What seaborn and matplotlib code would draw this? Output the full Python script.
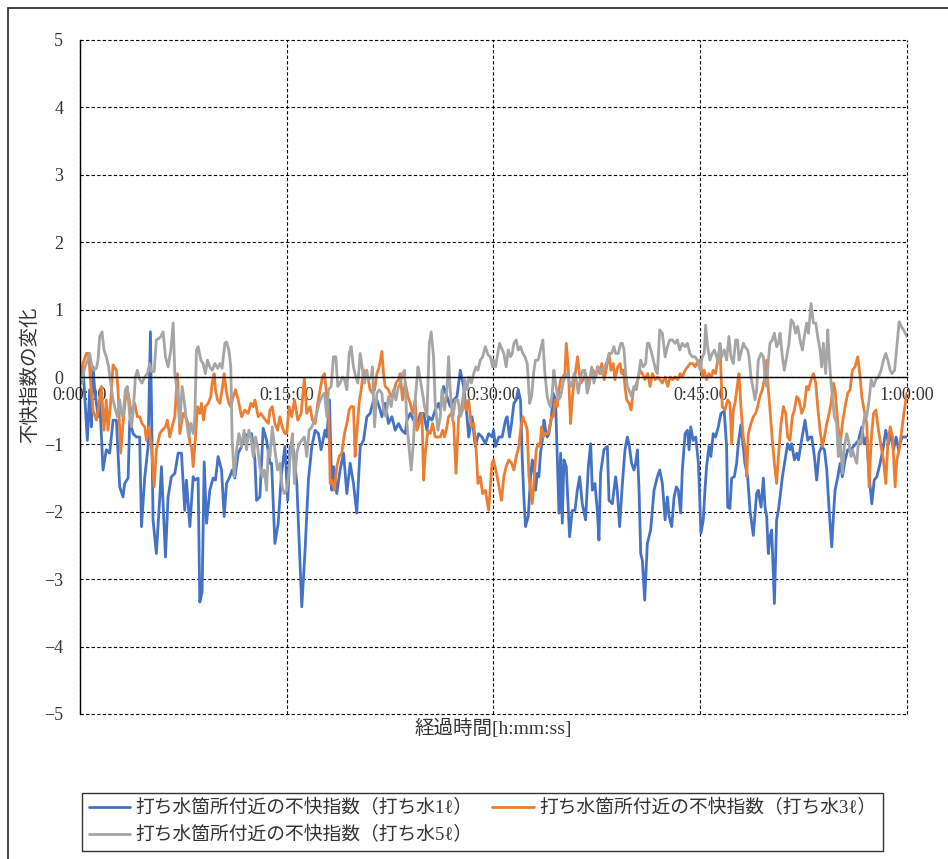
import matplotlib
matplotlib.use("Agg")
import matplotlib.pyplot as plt
import matplotlib.ticker as mticker
from matplotlib.patches import Rectangle
import seaborn as sns

# ---------------- data (minutes from start, change of discomfort index) ----------------
blue_minutes = [
    0.00,0.22,0.53,0.70,0.82,0.94,1.07,1.31,1.43,1.67,1.91,2.15,2.40,2.64,2.88,3.12,3.24,3.49,3.61,3.85,4.09,4.33,4.46,4.70,4.94,5.11,5.30,5.54,5.79,5.91,6.20,6.39,6.63,6.88,7.12,7.36,7.60,7.72,7.97,8.21,8.33,8.57,8.69,8.86,9.01,9.18,9.42,9.66,9.83,10.02,10.27,10.46,10.63,10.87,11.04,11.23,11.48,11.72,11.96,12.20,12.45,12.69,12.81,13.05,13.29,13.54,13.78,13.90,14.14,14.38,14.62,14.87,
    15.07,15.24,15.48,15.73,16.09,16.33,16.57,16.82,17.06,17.30,17.49,17.78,17.91,18.10,18.27,18.39,18.63,18.87,19.12,19.36,19.60,19.84,20.08,20.33,20.57,20.81,21.05,21.30,21.54,21.78,21.90,22.14,22.38,22.63,22.87,23.11,23.35,23.60,23.72,23.96,24.20,24.44,24.69,24.93,25.17,25.29,25.53,25.77,26.02,26.14,26.38,26.62,26.86,27.11,27.35,27.59,27.83,28.08,28.20,28.44,28.68,28.92,29.16,29.41,29.65,29.89,
    30.00,30.15,30.39,30.63,30.87,30.99,31.16,31.31,31.48,31.65,31.79,31.96,32.08,32.20,32.32,32.52,32.69,32.81,32.93,33.05,33.17,33.29,33.41,33.54,33.66,33.78,33.90,34.02,34.21,34.33,34.50,34.62,34.75,34.87,34.99,35.11,35.28,35.52,35.71,35.91,36.08,36.25,36.44,36.68,36.88,37.05,37.17,37.36,37.53,37.65,37.77,38.01,38.26,38.38,38.62,38.86,38.98,39.15,39.35,39.54,39.71,39.83,40.02,40.19,40.31,40.44,40.56,40.68,40.80,40.97,41.16,41.40,41.65,41.89,42.06,42.25,42.45,42.62,42.74,42.93,43.10,43.27,43.41,43.58,43.70,43.90,44.07,44.19,44.31,44.48,44.67,44.87,
    45.05,45.22,45.34,45.46,45.63,45.77,45.94,46.11,46.31,46.50,46.74,46.91,46.99,47.15,47.28,47.47,47.64,47.76,47.95,48.12,48.24,48.44,48.61,48.85,49.09,49.21,49.41,49.58,49.70,49.82,49.94,50.06,50.18,50.38,50.54,50.67,50.79,50.96,51.15,51.34,51.51,51.63,51.83,52.00,52.12,52.31,52.48,52.60,52.80,52.97,53.09,53.28,53.45,53.62,53.81,54.01,54.18,54.35,54.54,54.66,54.78,54.98,55.15,55.31,55.51,55.70,55.94,56.11,56.28,56.48,56.72,56.89,57.08,57.25,57.45,57.62,57.81,58.05,58.29,58.46,58.66,58.85,59.02,59.21,59.39,59.63,59.99,
]
blue_values = [
    0.10,0.15,-0.94,-0.19,-0.74,0.15,-0.19,-0.59,-0.34,-1.38,-1.08,-1.13,-0.64,-0.64,-1.63,-1.78,-1.58,-1.50,-0.64,-0.84,-0.89,-0.89,-2.22,-1.48,-1.03,0.67,-2.12,-2.62,-1.78,-1.33,-2.67,-1.78,-1.48,-1.43,-1.13,-1.13,-1.98,-1.53,-2.22,-1.48,-1.53,-1.50,-3.34,-3.19,-1.26,-2.17,-1.68,-1.50,-1.53,-1.18,-1.38,-2.07,-1.58,-1.48,-1.38,-1.50,-1.13,-1.03,-0.84,-0.89,-0.84,-1.23,-1.83,-1.78,-0.76,-0.94,-1.28,-1.28,-2.47,-2.17,-1.43,-1.03,
    -1.83,-1.03,-1.08,-1.58,-3.41,-2.57,-1.53,-1.03,-0.79,-0.84,-1.08,-0.79,-0.89,-0.34,-1.68,-1.33,-1.73,-1.38,-1.13,-1.73,-1.28,-1.58,-2.02,-1.03,-0.94,-0.59,-0.54,-0.34,-0.34,-0.49,-0.59,-0.39,-0.69,-0.59,-0.79,-0.69,-0.79,-0.84,-0.64,-0.54,-0.64,-0.74,-0.54,-0.54,-0.79,-0.59,-0.64,-0.49,-0.39,-0.49,-0.14,-0.29,-0.44,-0.34,-0.29,0.10,-0.14,-0.59,-0.89,-0.59,-1.03,-0.84,-0.89,-0.99,-0.84,-0.89,
    -0.79,-1.03,-0.89,-0.89,-0.64,-0.59,-0.89,-0.69,-0.39,-0.34,-0.19,-0.34,-1.18,-1.78,-2.22,-2.07,-1.48,-1.23,-1.38,-1.68,-1.43,-1.48,-1.13,-0.94,-0.64,-0.79,-0.89,-0.84,-0.59,-0.24,-0.34,-1.13,-2.02,-1.13,-2.17,-1.23,-1.33,-2.37,-1.98,-1.98,-1.68,-1.48,-1.88,-2.12,-1.33,-0.99,-1.68,-1.58,-1.98,-2.42,-1.43,-1.08,-1.03,-1.83,-1.88,-1.48,-1.68,-2.22,-1.58,-1.08,-0.89,-0.99,-1.28,-1.38,-1.28,-1.08,-1.68,-2.62,-2.72,-3.31,-2.47,-2.27,-1.68,-1.48,-1.38,-1.58,-2.12,-1.78,-2.07,-2.22,-1.78,-1.63,-1.68,-2.02,-1.38,-0.84,-0.79,-1.08,-0.74,-0.94,-0.89,-1.28,
    -2.32,-2.12,-1.68,-1.33,-1.03,-1.18,-0.84,-0.89,-0.74,-0.54,-0.51,-1.03,-1.93,-1.95,-1.50,-1.48,-1.28,-0.99,-0.71,-1.03,-1.28,-1.48,-1.98,-2.35,-1.73,-1.68,-1.93,-1.50,-1.93,-2.07,-2.62,-2.37,-2.27,-3.36,-2.12,-1.98,-1.78,-1.48,-1.23,-0.99,-1.08,-0.99,-1.23,-1.13,-1.23,-0.99,-0.79,-0.64,-0.94,-0.89,-0.89,-1.18,-1.53,-1.13,-1.03,-1.08,-1.38,-1.98,-2.52,-2.07,-1.68,-1.48,-1.28,-1.48,-1.23,-1.08,-1.08,-1.03,-0.99,-0.94,-0.74,-0.99,-0.89,-1.48,-1.88,-1.53,-1.48,-1.28,-1.03,-0.79,-0.99,-0.84,-1.08,-0.89,-1.08,-0.89,-0.89,
]

orange_minutes = [
    0.00,0.22,0.46,0.63,0.77,0.94,1.19,1.36,1.55,1.74,1.91,2.03,2.20,2.40,2.64,2.76,2.95,3.12,3.29,3.49,3.73,3.97,4.16,4.33,4.50,4.70,4.82,4.99,5.18,5.38,5.54,5.79,5.96,6.20,6.34,6.51,6.68,6.88,7.07,7.24,7.48,7.65,7.85,7.97,8.09,8.21,8.38,8.52,8.69,8.81,8.96,9.10,9.30,9.49,9.59,9.73,9.83,9.98,10.15,10.31,10.46,10.63,10.80,10.94,11.11,11.28,11.48,11.72,11.96,12.20,12.40,12.57,12.69,12.93,13.12,13.29,13.46,13.66,13.78,13.95,14.14,14.33,14.50,14.67,14.87,
    15.00,15.17,15.36,15.56,15.80,16.04,16.28,16.45,16.69,16.86,17.06,17.25,17.42,17.59,17.74,17.91,18.03,18.15,18.27,18.46,18.63,18.80,18.99,19.19,19.36,19.53,19.67,19.84,19.96,20.08,20.25,20.40,20.57,20.74,20.88,21.05,21.22,21.37,21.54,21.71,21.90,22.02,22.14,22.38,22.58,22.75,22.92,23.11,23.23,23.40,23.60,23.79,23.96,24.13,24.32,24.44,24.61,24.81,24.93,25.05,25.24,25.41,25.58,25.77,25.97,26.14,26.31,26.45,26.62,26.74,26.94,27.11,27.28,27.47,27.66,27.83,28.00,28.20,28.39,28.56,28.73,28.87,29.04,29.21,29.41,29.65,29.89,
    30.00,30.27,30.44,30.58,30.75,30.92,31.11,31.31,31.48,31.65,31.84,31.96,32.13,32.32,32.45,32.57,32.69,32.81,32.93,33.10,33.24,33.37,33.49,33.61,33.78,33.97,34.21,34.33,34.50,34.62,34.75,34.87,35.04,35.18,35.28,35.42,35.59,35.71,35.83,36.00,36.10,36.20,36.34,36.51,36.68,36.88,37.07,37.24,37.41,37.55,37.72,37.85,38.04,38.21,38.38,38.52,38.69,38.81,39.01,39.18,39.30,39.42,39.54,39.66,39.83,39.98,40.15,40.31,40.46,40.63,40.80,40.99,41.19,41.36,41.53,41.72,41.91,42.08,42.25,42.45,42.64,42.81,42.98,43.17,43.37,43.54,43.70,43.90,44.09,44.26,44.46,44.62,44.82,
    45.00,45.15,45.29,45.46,45.63,45.82,45.94,46.11,46.26,46.43,46.60,46.79,46.99,47.15,47.28,47.40,47.52,47.71,47.81,47.95,48.12,48.29,48.37,48.49,48.68,48.85,49.02,49.16,49.33,49.50,49.65,49.82,49.94,50.06,50.23,50.38,50.54,50.67,50.86,51.03,51.20,51.34,51.51,51.68,51.83,52.00,52.17,52.36,52.55,52.72,52.85,53.04,53.21,53.38,53.52,53.69,53.86,54.01,54.18,54.35,54.49,54.66,54.78,54.98,55.15,55.31,55.51,55.70,55.87,56.04,56.23,56.43,56.60,56.72,56.89,57.08,57.25,57.40,57.57,57.74,57.93,58.12,58.29,58.46,58.61,58.78,58.95,59.14,59.26,59.43,59.62,59.81,59.99,
]
orange_values = [
    0.00,0.20,0.35,0.35,-0.09,-0.49,-0.64,-0.44,-0.14,-0.79,-0.34,-0.79,-0.44,0.18,0.10,-0.19,-1.13,-0.69,-0.34,-0.24,-0.54,-0.39,-0.59,-0.59,-0.69,-0.74,-0.94,-0.74,-1.03,-1.63,-1.08,-0.84,-0.79,-0.74,-0.64,-0.89,-0.74,-0.59,0.05,-0.84,-0.54,-0.59,-0.69,-0.99,-1.03,-1.33,-0.89,-0.44,-0.54,-0.39,-0.64,-0.44,-0.39,-0.29,-0.09,0.05,-0.19,-0.34,-0.39,-0.19,0.05,-0.24,-0.39,-0.44,-0.29,-0.19,-0.34,-0.59,-0.49,-0.54,-0.39,-0.44,-0.34,-0.59,-0.54,-0.59,-0.64,-0.69,-0.49,-0.44,-0.69,-0.79,-0.59,-0.74,-0.84,
    -0.84,-0.44,-0.59,-0.34,-0.64,-0.54,-0.02,-0.54,-0.44,-0.64,-0.69,-0.39,-0.19,0.00,0.05,-0.29,-0.44,-1.58,-1.53,-1.68,-1.33,-1.18,-1.13,-0.84,-0.69,-0.49,-0.44,-0.44,-1.18,-0.84,-0.39,-0.19,0.10,0.05,0.00,-0.19,-0.24,-0.19,0.05,0.15,0.38,0.05,-0.14,-0.19,-0.29,-0.24,-0.09,-0.04,0.05,-0.34,-0.09,-0.29,-0.39,-0.54,-0.34,-0.79,-0.69,-0.54,-1.53,-1.13,-0.79,-0.84,-0.69,-0.89,-0.89,-0.89,-0.79,-0.89,-0.74,-0.59,-0.54,-0.69,-1.43,-0.59,-0.49,-0.24,-0.49,-0.34,-0.74,-0.69,-1.03,-1.58,-1.48,-1.73,-1.68,-1.98,-1.28,
    -1.23,-1.48,-1.68,-1.83,-1.48,-1.33,-1.23,-1.28,-1.38,-1.18,-1.03,-0.79,-0.59,-0.69,-0.79,-1.48,-1.68,-1.88,-1.58,-1.08,-0.99,-1.03,-0.74,-0.89,-0.84,-0.84,-0.59,-0.59,-0.34,-0.44,-0.19,-0.04,0.00,0.05,0.50,0.15,-0.69,-0.34,-0.09,0.15,0.30,0.10,-0.09,-0.04,0.05,-0.14,0.05,0.10,0.00,0.15,0.05,0.20,-0.04,0.15,0.35,0.10,0.20,-0.04,0.15,0.20,0.05,0.10,-0.14,-0.34,-0.39,-0.49,-0.19,-0.14,-0.04,0.10,0.05,-0.04,0.05,-0.14,0.05,-0.04,0.00,-0.04,-0.09,0.00,-0.14,0.00,-0.04,0.00,-0.04,0.05,0.00,0.10,0.15,0.20,0.20,0.15,0.23,
    0.25,0.00,0.10,-0.04,0.05,0.00,0.10,0.05,0.25,0.45,-0.44,-0.49,-0.34,-0.39,-0.99,-0.49,-0.39,-0.09,0.05,-0.44,-0.89,-1.08,-1.48,-0.84,-0.69,-0.59,-0.54,-0.44,-0.29,-0.19,-0.04,0.25,-0.19,-0.49,-0.94,-1.28,-1.58,-1.18,-0.69,-0.44,-0.54,-0.89,-0.94,-0.59,-0.49,-0.29,-0.34,-0.54,-0.44,-0.14,-0.19,-0.04,0.05,-0.09,-0.44,-0.79,-1.03,-0.89,-0.69,-0.54,-0.39,-0.09,-0.19,-0.69,-1.03,-0.69,-0.44,-0.24,-0.19,0.10,0.15,0.30,0.00,-0.29,-0.49,-0.69,-1.63,-0.94,-0.54,-0.49,-0.79,-1.03,-1.23,-1.58,-0.99,-0.74,-0.89,-1.63,-1.23,-1.08,-0.79,-0.49,-0.24,
]

gray_minutes = [
    0.00,0.15,0.29,0.46,0.70,0.87,1.02,1.19,1.31,1.43,1.60,1.74,1.91,2.08,2.23,2.40,2.57,2.71,2.88,3.00,3.12,3.29,3.44,3.61,3.73,3.85,4.02,4.16,4.33,4.50,4.70,4.89,5.06,5.18,5.38,5.54,5.71,5.86,6.03,6.20,6.39,6.59,6.76,6.88,7.07,7.24,7.41,7.55,7.72,7.89,8.04,8.21,8.33,8.45,8.57,8.77,8.93,9.10,9.25,9.42,9.59,9.78,9.98,10.15,10.31,10.51,10.63,10.80,10.94,11.04,11.19,11.36,11.53,11.72,11.91,12.08,12.25,12.40,12.57,12.74,12.88,13.05,13.22,13.37,13.54,13.66,13.78,13.95,14.14,14.33,14.50,14.67,14.82,
    15.00,15.17,15.31,15.41,15.56,15.73,15.90,16.09,16.28,16.45,16.62,16.82,17.01,17.18,17.35,17.54,17.74,17.91,18.03,18.22,18.39,18.56,18.70,18.87,19.04,19.19,19.36,19.53,19.67,19.84,20.01,20.16,20.33,20.50,20.64,20.81,20.93,21.13,21.22,21.37,21.54,21.71,21.90,22.02,22.19,22.38,22.58,22.75,22.92,23.11,23.23,23.40,23.55,23.72,23.89,24.03,24.20,24.32,24.52,24.61,24.81,25.00,25.17,25.34,25.48,25.65,25.77,25.97,26.14,26.26,26.45,26.62,26.74,26.86,27.03,27.23,27.42,27.59,27.76,27.91,28.08,28.20,28.39,28.56,28.73,28.87,29.04,29.21,29.41,29.60,29.77,29.94,
    30.00,30.15,30.27,30.44,30.58,30.75,30.92,31.07,31.24,31.36,31.48,31.65,31.79,31.96,32.13,32.28,32.45,32.62,32.76,32.93,33.05,33.24,33.41,33.58,33.73,33.90,34.02,34.14,34.26,34.38,34.50,34.70,34.87,35.04,35.18,35.35,35.52,35.67,35.84,36.00,36.15,36.32,36.49,36.63,36.80,36.97,37.12,37.29,37.46,37.60,37.77,37.89,38.09,38.26,38.43,38.57,38.74,38.86,39.06,39.23,39.35,39.47,39.59,39.71,39.83,40.02,40.19,40.36,40.51,40.68,40.85,41.04,41.16,41.28,41.48,41.65,41.77,41.89,42.06,42.25,42.45,42.62,42.78,42.98,43.17,43.34,43.51,43.70,43.90,44.07,44.24,44.43,44.62,44.79,44.92,
    45.00,45.15,45.29,45.39,45.53,45.70,45.87,46.02,46.19,46.31,46.43,46.55,46.74,46.91,47.08,47.23,47.40,47.57,47.71,47.81,47.95,48.12,48.24,48.44,48.54,48.68,48.85,48.97,49.09,49.21,49.41,49.58,49.70,49.82,49.94,50.06,50.23,50.38,50.54,50.67,50.79,50.96,51.10,51.27,51.44,51.59,51.76,51.92,52.07,52.24,52.41,52.55,52.72,52.85,53.04,53.21,53.38,53.52,53.69,53.81,53.93,54.10,54.25,54.35,54.49,54.59,54.73,54.90,55.02,55.15,55.31,55.46,55.63,55.75,55.94,56.04,56.19,56.36,56.48,56.67,56.84,56.96,57.08,57.25,57.40,57.57,57.74,57.93,58.12,58.29,58.46,58.61,58.78,58.90,59.10,59.26,59.43,59.58,59.75,59.99,
]
gray_values = [
    0.05,-0.09,0.10,0.20,0.35,0.15,0.10,0.13,0.25,0.60,0.67,0.40,0.30,0.15,-0.09,-0.34,-0.49,-0.59,-0.34,-0.54,-0.59,-0.19,-0.14,-0.59,-0.74,-0.54,0.00,0.10,-0.04,-0.09,0.00,0.05,0.20,0.08,0.08,0.55,0.57,0.60,0.67,0.30,0.15,0.40,0.80,0.05,-0.24,-0.69,-0.14,-0.34,-0.64,-0.89,-0.69,-0.84,-0.59,0.40,0.45,0.25,0.20,0.05,0.25,0.15,0.10,0.20,0.13,0.20,0.13,0.50,0.52,0.40,0.15,-0.94,-1.48,-1.08,-0.84,-1.03,-0.79,-1.08,-0.79,-0.89,-1.18,-0.89,-1.03,-1.33,-1.48,-1.38,-1.68,-1.08,-1.18,-0.74,-1.08,-1.38,-1.28,-1.63,-1.73,
    -1.68,-1.38,-1.03,-0.84,-1.58,-1.13,-0.99,-0.94,-0.89,-1.18,-0.79,-0.74,-0.64,-0.54,-0.39,-0.29,-0.24,-0.59,-0.19,-0.14,0.30,0.30,-0.14,-0.09,0.00,-0.04,-0.19,0.35,0.45,0.15,0.00,-0.09,0.35,0.10,-0.09,0.10,-0.04,0.00,0.15,-0.74,-0.24,-0.19,-0.24,-0.49,-0.59,-0.29,-0.44,-0.19,-0.34,-0.14,-0.09,0.05,0.10,-0.69,-1.08,-1.38,-0.94,-0.34,0.15,0.05,-0.19,-0.44,-0.59,0.50,0.67,0.30,-0.39,-0.79,-0.59,-0.19,-0.49,-0.19,0.30,-0.19,-0.64,-0.34,-0.34,-0.59,-0.49,-0.04,-0.19,0.00,-0.09,0.05,0.15,0.10,0.25,0.30,0.45,0.33,0.30,0.15,
    0.25,0.15,0.30,0.50,0.43,0.35,0.15,0.40,0.30,0.35,0.50,0.55,0.40,0.45,0.35,0.30,0.20,-0.39,-0.29,0.10,0.25,0.25,0.40,0.55,0.05,-0.29,-0.39,-0.44,-0.24,0.10,-0.09,-0.34,-0.29,-0.09,0.00,0.05,-0.09,-0.14,0.05,-0.04,-0.24,0.00,0.10,0.10,-0.24,-0.09,0.15,-0.09,0.05,0.15,0.10,0.05,0.15,0.25,0.35,0.35,0.45,0.35,0.35,0.50,0.50,0.40,0.05,-0.14,-0.19,-0.29,-0.14,-0.19,0.00,0.25,0.15,0.20,0.50,0.50,0.35,0.20,0.10,0.05,0.70,0.65,0.30,0.45,0.55,0.55,0.50,0.55,0.40,0.50,0.45,0.50,0.35,0.30,0.30,0.25,0.15,
    0.10,0.30,0.35,0.77,0.45,0.25,0.35,0.40,0.30,0.20,0.50,0.30,0.40,0.25,0.60,0.30,0.20,0.55,0.55,0.25,0.35,0.50,0.45,0.40,0.30,0.00,-0.19,-0.34,-0.19,0.25,0.35,0.30,0.00,-0.14,0.25,0.50,0.55,0.65,0.45,0.50,0.65,0.30,0.10,0.30,0.50,0.85,0.80,0.65,0.75,0.55,0.40,0.60,0.80,0.65,1.09,0.80,0.80,0.60,0.40,0.15,0.50,0.05,0.70,0.30,-0.09,-0.29,-0.59,-0.69,-1.18,-0.89,-1.43,-1.03,-0.84,-0.94,-1.18,-1.08,-1.18,-1.28,-0.94,-0.99,-0.69,-0.54,-0.59,-0.34,-0.04,-0.14,-0.04,0.00,0.10,0.25,0.35,0.25,0.10,0.05,0.10,0.45,0.82,0.75,0.70,0.60,
]

series_labels = [
    "打ち水箇所付近の不快指数（打ち水1ℓ）",
    "打ち水箇所付近の不快指数（打ち水3ℓ）",
    "打ち水箇所付近の不快指数（打ち水5ℓ）",
]
series_colors = ["#4472C4", "#ED7D31", "#A5A5A5"]

x_ticks = [0, 15, 30, 45, 60]
x_tick_labels = ["0:00:00", "0:15:00", "0:30:00", "0:45:00", "1:00:00"]
y_ticks = [-5, -4, -3, -2, -1, 0, 1, 2, 3, 4, 5]
x_title = "経過時間[h:mm:ss]"
y_title = "不快指数の変化"

# ---------------- style ----------------
sns.set_style("white")
plt.rcParams["font.family"] = ["Liberation Serif", "Noto Sans CJK JP"]
plt.rcParams["axes.unicode_minus"] = True
TXT = "#333333"

W, H = 948, 859
fig = plt.figure(figsize=(W / 100, H / 100), dpi=100)
ax = fig.add_axes([80 / W, 1 - 714 / H, (907 - 80) / W, (714 - 40) / H])

series = [
    (blue_minutes, blue_values),
    (orange_minutes, orange_values),
    (gray_minutes, gray_values),
]
handles = []
for (mins, vals), lab, col in zip(series, series_labels, series_colors):
    assert len(mins) == len(vals), (lab, len(mins), len(vals))
    n_before = len(ax.lines)
    sns.lineplot(x=mins, y=vals, ax=ax, color=col, linewidth=2.0,
                 sort=False, estimator=None, legend=False)
    ln = ax.lines[n_before]
    ln.set_solid_joinstyle("round")
    ln.set_label(lab)
    handles.append(ln)

ax.set_xlim(0, 60)
ax.set_ylim(-5, 5)
ax.set_xlabel("")
ax.set_ylabel("")
ax.set_xticks(x_ticks)
ax.set_xticklabels(x_tick_labels)
ax.xaxis.set_minor_locator(mticker.MultipleLocator(3))
ax.set_yticks(y_ticks)
ax.yaxis.set_minor_locator(mticker.MultipleLocator(0.2))

for s in ["top", "right"]:
    ax.spines[s].set_visible(False)
ax.spines["bottom"].set_position(("data", 0))
ax.spines["bottom"].set_color("black")
ax.spines["bottom"].set_linewidth(1.0)
ax.spines["left"].set_color("black")
ax.spines["left"].set_linewidth(1.0)

ax.grid(True, which="major", axis="both", color="black",
        linestyle=(0, (3, 2)), linewidth=0.8)
for gl in ax.get_xgridlines() + ax.get_ygridlines():
    gl.set_clip_on(False)

ax.tick_params(axis="y", which="major", direction="out", length=4, width=1,
               pad=8, labelsize=13, colors="black", labelcolor=TXT)
ax.tick_params(axis="y", which="minor", direction="out", length=3, width=1,
               colors="black")
ax.tick_params(axis="x", which="major", direction="out", length=3, width=1,
               pad=4, labelsize=13, colors="black", labelcolor=TXT)
ax.tick_params(axis="x", which="minor", direction="out", length=3, width=1,
               colors="black")

fig.text(493 / W, 1 - 728 / H, x_title, ha="center", va="center",
         fontsize=14, color=TXT)
fig.text(30 / W, 1 - 375 / H, y_title, rotation=90, ha="center",
         va="center", fontsize=14, color=TXT)

# legend: row 1 -> 1ℓ, 3ℓ ; row 2 -> 5ℓ (column-major filling)
order = [0, 2, 1]
leg = ax.legend([handles[i] for i in order], [series_labels[i] for i in order],
                ncol=2, mode="expand", loc="upper left",
                bbox_to_anchor=(82 / W, 1 - 793 / H, (883 - 82) / W, 0.0),
                bbox_transform=fig.transFigure, borderaxespad=0,
                frameon=True, fancybox=False, edgecolor="black",
                fontsize=13.5, handlelength=2.2, handletextpad=0.3,
                labelspacing=0.45, borderpad=0.35, columnspacing=1.0)
leg.get_frame().set_linewidth(1.0)
for t in leg.get_texts():
    t.set_color(TXT)

# outer chart frame (right and bottom edges fall outside the picture)
fig.patches.append(Rectangle((8 / W, -0.05), 1.2, (1 - 8 / H) + 0.05,
                             transform=fig.transFigure, fill=False,
                             edgecolor="#222222", linewidth=1.2))

fig.savefig("out.png", dpi=100)
